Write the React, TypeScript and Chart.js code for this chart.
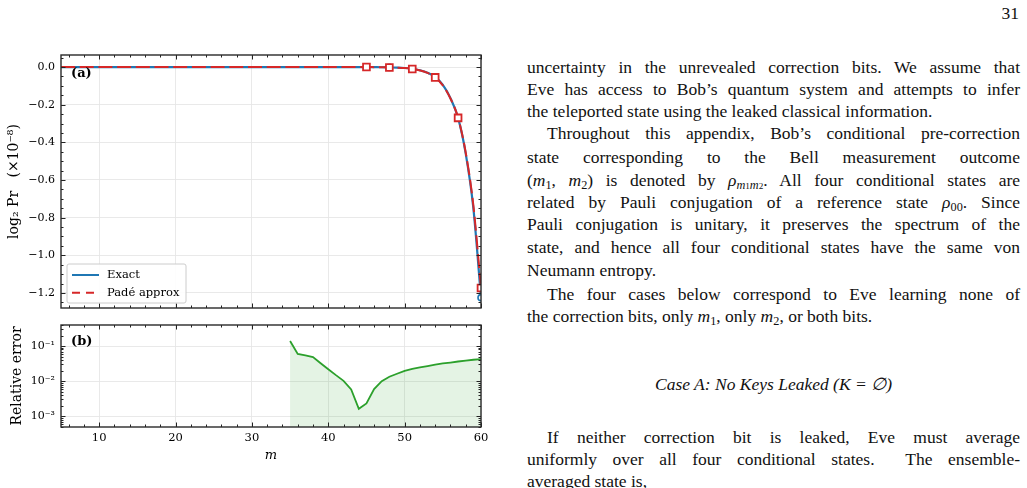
import React, { useEffect, useRef } from "react";
import { Chart, registerables } from "chart.js";
Chart.register(...registerables);

// ---------------- data ----------------
const M = [5, 6, 7, 8, 9, 10, 11, 12, 13, 14, 15, 16, 17, 18, 19, 20, 21, 22, 23, 24, 25, 26, 27, 28, 29, 30, 31, 32, 33, 34, 35, 36, 37, 38, 39, 40, 41, 42, 43, 44, 45, 46, 47, 48, 49, 50, 51, 52, 53, 54, 55, 56, 57, 58, 59, 60];
const EXACT = [0, 0, 0, 0, 0, 0, 0, 0, 0, 0, 0, 0, 0, 0, 0, 0, 0, 0, 0, 0, 0, 0, 0, 0, 0, 0, 0, 0, 0, 0, 0, 0, 0, 0, 0, 0, 0, 0, 0, 0, 0, -0.0005, -0.001, -0.002, -0.003, -0.005, -0.009, -0.017, -0.03, -0.052, -0.095, -0.165, -0.27, -0.46, -0.75, -1.225];
const PADE = [0, 0, 0, 0, 0, 0, 0, 0, 0, 0, 0, 0, 0, 0, 0, 0, 0, 0, 0, 0, 0, 0, 0, 0, 0, 0, 0, 0, 0, 0, 0, 0, 0, 0, 0, 0, 0, 0, 0, 0, 0, -0.0005, -0.001, -0.002, -0.003, -0.005, -0.01, -0.018, -0.031, -0.055, -0.097, -0.167, -0.27, -0.455, -0.735, -1.174];
const MARK_M = [45, 48, 51, 54, 57, 60];
const ERR_M = [35, 36, 37, 38, 39, 40, 41, 42, 43, 44, 45, 46, 47, 48, 49, 50, 51, 52, 53, 54, 55, 56, 57, 58, 59, 60];
const REL_ERR = [0.139, 0.06, 0.054, 0.0485, 0.0324, 0.0219, 0.0148, 0.0102, 0.0058, 0.00162, 0.00231, 0.0059, 0.01, 0.0133, 0.0162, 0.0197, 0.0222, 0.0245, 0.0269, 0.0295, 0.032, 0.0339, 0.0363, 0.0385, 0.0407, 0.0426];
const X_TICKS = [10, 20, 30, 40, 50, 60];
const Y_TICKS_A = [0, -0.2, -0.4, -0.6, -0.8, -1.0, -1.2];
const Y_TICKS_B = [0.001, 0.01, 0.1];
const Y_LABELS_B = ["10\u207B\u00B3", "10\u207B\u00B2", "10\u207B\u00B9"];
const LEGEND_LABELS = ["Exact", "Pad\u00E9 approx"];

const BLUE = "#1f77b4";
const RED = "#d62728";
const GREEN = "#2ca02c";
const FONT = "DejaVu Serif";

// ---------------- helpers ----------------
function decorate(kind: "a" | "b") {
  return {
    id: "decor" + kind,
    afterDraw(chart: any) {
      const { ctx, chartArea: ca, scales } = chart;
      const xs = scales.x;
      const ys = scales.y;
      ctx.save();
      ctx.strokeStyle = "#222";
      ctx.lineWidth = 1;
      ctx.setLineDash([]);
      const seg = (x1: number, y1: number, x2: number, y2: number) => {
        ctx.beginPath();
        ctx.moveTo(x1, y1);
        ctx.lineTo(x2, y2);
        ctx.stroke();
      };
      for (let v = 6; v <= 60; v += 2) {
        const L = v % 10 === 0 ? 4.5 : 2.5;
        const px = Math.round(xs.getPixelForValue(v)) + 0.5;
        seg(px, ca.bottom, px, ca.bottom - L);
        seg(px, ca.top, px, ca.top + L);
      }
      if (kind === "a") {
        for (let k = -25; k <= 1; k++) {
          const v = k * 0.05;
          const L = k % 4 === 0 ? 4.5 : 2.5;
          const py = Math.round(ys.getPixelForValue(v)) + 0.5;
          if (py < ca.top || py > ca.bottom) continue;
          seg(ca.left, py, ca.left + L, py);
          seg(ca.right, py, ca.right - L, py);
        }
      } else {
        for (let n = -4; n <= -1; n++) {
          for (let k = 1; k <= 9; k++) {
            const v = k * Math.pow(10, n);
            if (v < ys.min || v > ys.max) continue;
            const L = k === 1 ? 4.5 : 2.5;
            const py = Math.round(ys.getPixelForValue(v)) + 0.5;
            seg(ca.left, py, ca.left + L, py);
            seg(ca.right, py, ca.right - L, py);
          }
        }
      }
      // frame
      ctx.strokeStyle = "#2a2a2a";
      ctx.lineWidth = 1.4;
      ctx.strokeRect(ca.left, ca.top, ca.right - ca.left, ca.bottom - ca.top);
      // panel label
      ctx.fillStyle = "#000";
      ctx.font = "bold 13px '" + FONT + "'";
      ctx.textBaseline = "middle";
      ctx.textAlign = "left";
      ctx.fillText(kind === "a" ? "(a)" : "(b)", ca.left + 10, ca.top + (kind === "a" ? 19 : 17));
      if (kind === "a") {
        const lx = ca.left + 6;
        const ly = ca.bottom - 44;
        const lw = 119;
        const lh = 39;
        ctx.beginPath();
        const r = 2;
        ctx.moveTo(lx + r, ly);
        ctx.lineTo(lx + lw - r, ly);
        ctx.quadraticCurveTo(lx + lw, ly, lx + lw, ly + r);
        ctx.lineTo(lx + lw, ly + lh - r);
        ctx.quadraticCurveTo(lx + lw, ly + lh, lx + lw - r, ly + lh);
        ctx.lineTo(lx + r, ly + lh);
        ctx.quadraticCurveTo(lx, ly + lh, lx, ly + lh - r);
        ctx.lineTo(lx, ly + r);
        ctx.quadraticCurveTo(lx, ly, lx + r, ly);
        ctx.closePath();
        ctx.fillStyle = "rgba(255,255,255,0.9)";
        ctx.fill();
        ctx.strokeStyle = "#cccccc";
        ctx.lineWidth = 1;
        ctx.stroke();
        ctx.lineWidth = 2;
        ctx.strokeStyle = BLUE;
        seg(lx + 5, ly + 11, lx + 32, ly + 11);
        ctx.strokeStyle = RED;
        ctx.setLineDash([8, 6]);
        seg(lx + 5, ly + 28.7, lx + 32, ly + 28.7);
        ctx.setLineDash([]);
        ctx.fillStyle = "#000";
        ctx.font = "11.5px '" + FONT + "'";
        ctx.fillText(LEGEND_LABELS[0], lx + 40, ly + 11);
        ctx.fillText(LEGEND_LABELS[1], lx + 40, ly + 28.7);
      }
      ctx.restore();
    },
  };
}

const gridOpts = { color: "#e6e6e6", lineWidth: 0.9, drawTicks: false };

function configA(): any {
  const pts = (arr: number[]) => M.map((m, i) => ({ x: m, y: arr[i] }));
  const marks = (arr: number[]) => MARK_M.map((m) => ({ x: m, y: arr[M.indexOf(m)] }));
  return {
    type: "line",
    data: {
      datasets: [
        {
          label: "Padé marks",
          data: marks(PADE),
          showLine: false,
          pointStyle: "rect",
          pointRadius: 4.8,
          pointBackgroundColor: "#ffffff",
          pointBorderColor: RED,
          pointBorderWidth: 1.8,
        },
        {
          label: LEGEND_LABELS[1],
          data: pts(PADE),
          borderColor: RED,
          borderWidth: 2,
          borderDash: [14, 4.7],
          pointRadius: 0,
          cubicInterpolationMode: "monotone",
        },
        {
          label: "Exact marks",
          data: marks(EXACT),
          showLine: false,
          pointStyle: "circle",
          pointRadius: 3,
          pointBackgroundColor: "#ffffff",
          pointBorderColor: BLUE,
          pointBorderWidth: 1.6,
        },
        {
          label: LEGEND_LABELS[0],
          data: pts(EXACT),
          borderColor: BLUE,
          borderWidth: 2.2,
          pointRadius: 0,
          cubicInterpolationMode: "monotone",
        },
      ],
    },
    options: {
      responsive: false,
      animation: false,
      devicePixelRatio: 1,
      layout: { padding: { left: 0, right: 19, top: 15, bottom: 0 } },
      plugins: { legend: { display: false }, tooltip: { enabled: false } },
      scales: {
        x: {
          type: "linear",
          min: 5,
          max: 60,
          grid: gridOpts,
          border: { display: false },
          ticks: { display: false },
          afterBuildTicks: (s: any) => {
            s.ticks = X_TICKS.map((v) => ({ value: v }));
          },
          afterFit: (s: any) => {
            s.height = 22;
          },
        },
        y: {
          type: "linear",
          min: -1.28,
          max: 0.064,
          grid: gridOpts,
          border: { display: false },
          ticks: {
            color: "#000",
            padding: 6,
            font: { family: FONT, size: 11 },
            callback: (v: number) => (v === 0 ? "0.0" : "\u2212" + Math.abs(v).toFixed(1)),
          },
          title: {
            display: true,
            text: "log\u2082 Pr   (\u00D710\u207B\u2078)",
            color: "#000",
            font: { family: FONT, size: 14 },
            padding: { top: 6, bottom: 0 },
          },
          afterBuildTicks: (s: any) => {
            s.ticks = Y_TICKS_A.map((v) => ({ value: v }));
          },
          afterFit: (s: any) => {
            s.width = 61;
          },
        },
      },
    },
    plugins: [decorate("a")],
  };
}

function configB(): any {
  return {
    type: "line",
    data: {
      datasets: [
        {
          label: "Relative error",
          data: ERR_M.map((m, i) => ({ x: m, y: REL_ERR[i] })),
          borderColor: GREEN,
          borderWidth: 1.8,
          pointRadius: 0,
          fill: "start",
          backgroundColor: "rgba(44,160,44,0.13)",
        },
      ],
    },
    options: {
      responsive: false,
      animation: false,
      devicePixelRatio: 1,
      layout: { padding: { left: 0, right: 19, top: 15, bottom: 0 } },
      plugins: { legend: { display: false }, tooltip: { enabled: false } },
      scales: {
        x: {
          type: "linear",
          min: 5,
          max: 60,
          grid: gridOpts,
          border: { display: false },
          ticks: {
            color: "#000",
            padding: 4,
            autoSkip: false,
            maxRotation: 0,
            font: { family: FONT, size: 11.5 },
          },
          title: {
            display: true,
            text: "m",
            color: "#000",
            font: { family: FONT, size: 13, style: "italic" },
            padding: { top: 0, bottom: 7 },
          },
          afterBuildTicks: (s: any) => {
            s.ticks = X_TICKS.map((v) => ({ value: v }));
          },
          afterFit: (s: any) => {
            s.height = 43;
          },
        },
        y: {
          type: "logarithmic",
          min: 0.00049,
          max: 0.4,
          grid: gridOpts,
          border: { display: false },
          ticks: {
            color: "#000",
            padding: 6,
            font: { family: FONT, size: 11 },
            callback: (v: number) => {
              const i = Y_TICKS_B.findIndex((t) => Math.abs(t - v) / t < 1e-6);
              return i >= 0 ? Y_LABELS_B[i] : "";
            },
          },
          title: {
            display: true,
            text: "Relative error",
            color: "#000",
            font: { family: FONT, size: 14 },
            padding: { top: 9, bottom: 0 },
          },
          afterBuildTicks: (s: any) => {
            s.ticks = Y_TICKS_B.map((v) => ({ value: v }));
          },
          afterFit: (s: any) => {
            s.width = 61;
          },
        },
      },
    },
    plugins: [decorate("b")],
  };
}

function ChartCanvas(props: { make: () => any; left: number; top: number; width: number; height: number }) {
  const ref = useRef<HTMLCanvasElement>(null);
  useEffect(() => {
    const c = new Chart(ref.current as HTMLCanvasElement, props.make());
    return () => c.destroy();
  }, []);
  return (
    <canvas
      ref={ref}
      width={props.width}
      height={props.height}
      style={{ position: "absolute", left: props.left, top: props.top, width: props.width, height: props.height }}
    />
  );
}

// ---------------- text column ----------------
const TFONT = '"Liberation Serif", "Times New Roman", serif';
const sub: React.CSSProperties = { fontSize: "0.7em", verticalAlign: "-0.25em", lineHeight: 0 };

function Line(props: { y: number; justify?: boolean; indent?: boolean; children: any }) {
  return (
    <div
      style={{
        position: "absolute",
        left: 527,
        width: 493,
        top: props.y - 11,
        height: 22,
        lineHeight: "22px",
        fontFamily: TFONT,
        fontSize: 17.5,
        color: "#111",
        boxSizing: "border-box",
        paddingLeft: props.indent ? 20 : 0,
        textAlign: props.justify ? "justify" : "left",
        textAlignLast: props.justify ? "justify" : "left",
      } as React.CSSProperties}
    >
      {props.children}
    </div>
  );
}

export default function App() {
  return (
    <div
      style={{
        position: "absolute",
        left: 0,
        top: 0,
        width: 1027,
        height: 488,
        overflow: "hidden",
        background: "#fff",
      }}
    >
      <ChartCanvas make={configA} left={0} top={40} width={500} height={290} />
      <ChartCanvas make={configB} left={0} top={310} width={500} height={160} />

      <div
        style={{
          position: "absolute",
          right: 8,
          top: 2,
          fontFamily: TFONT,
          fontSize: 17.5,
          lineHeight: "22px",
          color: "#111",
        }}
      >
        31
      </div>

      <Line y={67} justify>uncertainty in the unrevealed correction bits. We assume that</Line>
      <Line y={89} justify>Eve has access to Bob’s quantum system and attempts to infer</Line>
      <Line y={111}>the teleported state using the leaked classical information.</Line>
      <Line y={133} justify indent>Throughout this appendix, Bob’s conditional pre-correction</Line>
      <Line y={157} justify>state corresponding to the Bell measurement outcome</Line>
      <Line y={180} justify>
        (<i>m</i><span style={sub}>1</span>, <i>m</i><span style={sub}>2</span>) is denoted by <i>ρ</i>
        <span style={sub}><i>m</i><span style={{ fontSize: "0.75em" }}>1</span><i>m</i><span style={{ fontSize: "0.75em" }}>2</span></span>. All four conditional states are
      </Line>
      <Line y={202} justify>
        related by Pauli conjugation of a reference state <i>ρ</i><span style={sub}>00</span>. Since
      </Line>
      <Line y={224} justify>Pauli conjugation is unitary, it preserves the spectrum of the</Line>
      <Line y={247} justify>state, and hence all four conditional states have the same von</Line>
      <Line y={270}>Neumann entropy.</Line>
      <Line y={294} justify indent>The four cases below correspond to Eve learning none of</Line>
      <Line y={316}>
        the correction bits, only <i>m</i><span style={sub}>1</span>, only <i>m</i><span style={sub}>2</span>, or both bits.
      </Line>
      <div
        style={{
          position: "absolute",
          left: 527,
          width: 493,
          top: 384 - 11,
          lineHeight: "22px",
          fontFamily: TFONT,
          fontSize: 17.5,
          fontStyle: "italic",
          textAlign: "center",
          color: "#111",
        }}
      >
        Case A: No Keys Leaked (K = ∅)
      </div>
      <Line y={437} justify indent>If neither correction bit is leaked, Eve must average</Line>
      <Line y={459} justify>uniformly over all four conditional states.&nbsp; The ensemble-</Line>
      <Line y={481}>averaged state is,</Line>
    </div>
  );
}
